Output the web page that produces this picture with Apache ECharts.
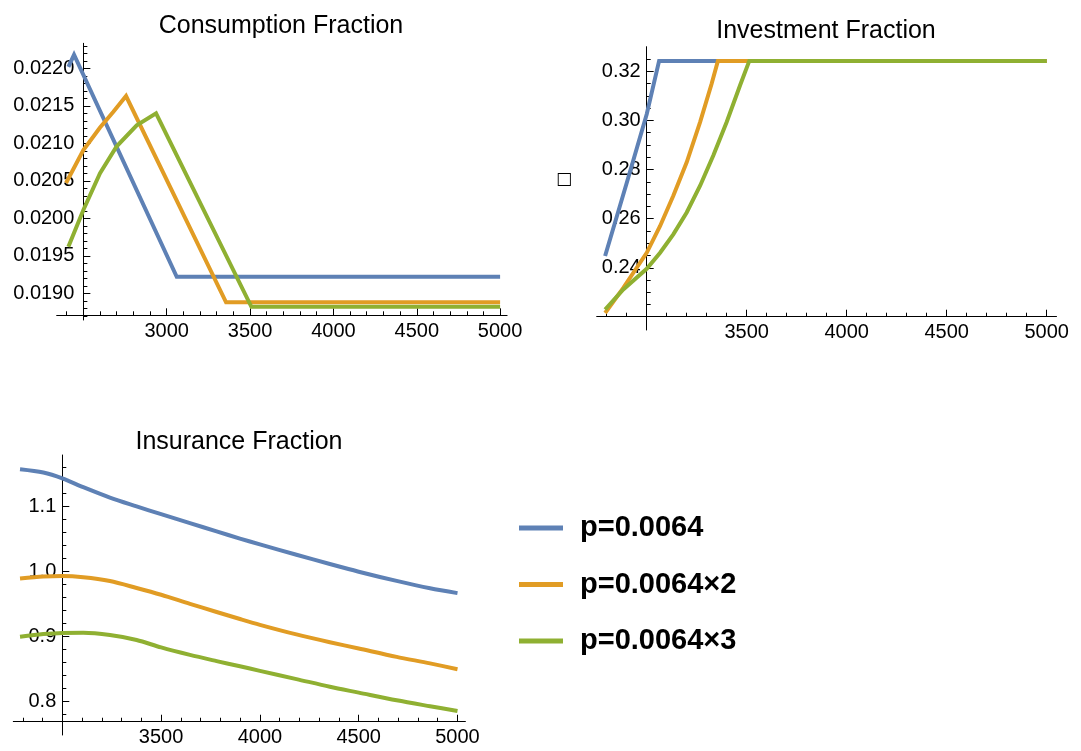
<!DOCTYPE html>
<html>
<head>
<meta charset="utf-8">
<script src="https://cdn.jsdelivr.net/npm/echarts@6/dist/echarts.min.js"></script>
<style>
html,body{margin:0;padding:0;background:#fff;}
#chart{width:1081px;height:751px;}
</style>
</head>
<body>
<div id="chart"></div>
<script>
// ---- data ----
const seriesNames = ['p=0.0064', 'p=0.0064×2', 'p=0.0064×3'];
const colors = ['#5E81B5', '#E19C24', '#8FB032'];

// Consumption Fraction ([x, y] breakpoints)
const consBlue   = [[2410,0.02202],[2444,0.02218],[3060,0.01922],[5000,0.01922]];
const consOrange = [[2396,0.02047],[2500,0.02091],[2600,0.02121],[2680,0.02142],[2756,0.02163],[3356,0.01888],[5000,0.01888]];
const consGreen  = [[2410,0.01962],[2500,0.02011],[2600,0.02060],[2700,0.02096],[2820,0.02124],[2936,0.02140],[3508,0.01882],[5000,0.01882]];

// Investment Fraction
const invBlue   = [[2792,0.2448],[2900,0.2745],[3000,0.3025],[3062,0.3242],[5000,0.3242]];
const invOrange = [[2792,0.2216],[2883,0.2318],[2950,0.2400],[3000,0.2461],[3067,0.2570],[3133,0.2693],[3200,0.2829],[3267,0.2993],[3325,0.3150],[3356,0.3242],[5000,0.3242]];
const invGreen  = [[2792,0.2230],[2883,0.2312],[3000,0.2396],[3067,0.2461],[3133,0.2536],[3200,0.2625],[3267,0.2734],[3333,0.2857],[3400,0.2993],[3467,0.3143],[3513,0.3242],[5000,0.3242]];

// Insurance Fraction
const insX      = [2786, 2904, 3000, 3106, 3241, 3376, 3500, 3646, 3781, 3899, 4000, 4185, 4354, 4500, 4692, 4861, 5000];
const insBlue   = [1.1575, 1.1525, 1.1436, 1.1300, 1.1140, 1.1005, 1.0885, 1.0748, 1.0620, 1.0510, 1.0420, 1.0260, 1.0118, 1.0000, 0.9858, 0.9745, 0.9670];
const insOrange = [0.9897, 0.9925, 0.9933, 0.9915, 0.9856, 0.9750, 0.9645, 0.9505, 0.9380, 0.9272, 0.9183, 0.9035, 0.8915, 0.8818, 0.8690, 0.8590, 0.8500];
const insGreen  = [0.9000, 0.9040, 0.9058, 0.9060, 0.9025, 0.8950, 0.8835, 0.8720, 0.8625, 0.8545, 0.8475, 0.8348, 0.8230, 0.8140, 0.8022, 0.7930, 0.7857];

// tick labels
const consXTicks = [3000, 3500, 4000, 4500, 5000];
const consYTicks = [0.0190, 0.0195, 0.0200, 0.0205, 0.0210, 0.0215, 0.0220];
const invXTicks  = [3500, 4000, 4500, 5000];
const invYTicks  = [0.24, 0.26, 0.28, 0.30, 0.32];
const insXTicks  = [3500, 4000, 4500, 5000];
const insYTicks  = [0.8, 0.9, 1.0, 1.1];

const titles = ['Consumption Fraction', 'Investment Fraction', 'Insurance Fraction'];

// ---- helpers ----
function range(a, b, step) { const out = []; for (let v = a; v <= b + step * 1e-6; v += step) out.push(+v.toFixed(6)); return out; }
const FONT = 'Liberation Sans, Arial, sans-serif';
const AX = '#000';
const LABEL_SIZE = 20;

const panels = [
  { grid: {left:56.7, top:43.3, width:450.4, height:276.7},
    xMin:2340, xMax:5042, yMin:0.018644, yMax:0.022333,
    xCross:2500, yCross:0.0187067, yMargin:9,
    xMaj: consXTicks, xMin2: range(2400, 5000, 100),
    yMaj: consYTicks, yMin2: range(0.0187, 0.0223, 0.0001), yDec:4,
    data:[consBlue, consOrange, consGreen], smooth:false },
  { grid: {left:596.7, top:46.7, width:459.8, height:283.3},
    xMin:2750, xMax:5049, yMin:0.21467, yMax:0.32997,
    xCross:3000, yCross:0.22008, yMargin:6,
    xMaj: invXTicks, xMin2: range(2800, 5000, 100),
    yMaj: invYTicks, yMin2: range(0.225, 0.325, 0.005), yDec:2,
    data:[invBlue, invOrange, invGreen], smooth:false },
  { grid: {left:13.3, top:455, width:452.1, height:280},
    xMin:2752, xMax:5040, yMin:0.7488, yMax:1.1795,
    xCross:3000, yCross:0.7692, yMargin:6,
    xMaj: insXTicks, xMin2: range(2800, 5000, 100),
    yMaj: insYTicks, yMin2: range(0.78, 1.16, 0.02), yDec:1,
    data:[insX.map((x,i)=>[x,insBlue[i]]), insX.map((x,i)=>[x,insOrange[i]]), insX.map((x,i)=>[x,insGreen[i]])], smooth:0.3 }
];

const grid = [], xAxis = [], yAxis = [], series = [];
panels.forEach((p, gi) => {
  grid.push(p.grid);
  const g = p.grid;
  const xScale = g.width / (p.xMax - p.xMin);
  const yScale = g.height / (p.yMax - p.yMin);
  const yOff = -((p.xCross - p.xMin) * xScale);
  const xOff = -((p.yCross - p.yMin) * yScale);
  xAxis.push({ type:'value', gridIndex:gi, min:p.xMin, max:p.xMax, position:'bottom', offset:xOff,
    axisLine:{show:true, onZero:false, lineStyle:{color:AX, width:1}},
    axisTick:{show:true, inside:true, length:7, customValues:p.xMaj, lineStyle:{color:AX}},
    axisLabel:{show:true, customValues:p.xMaj, color:'#000', fontSize:LABEL_SIZE, fontFamily:FONT, margin:6,
      formatter:(v)=>String(Math.round(v))},
    splitLine:{show:false} });
  xAxis.push({ type:'value', gridIndex:gi, min:p.xMin, max:p.xMax, position:'bottom', offset:xOff,
    axisLine:{show:false, onZero:false},
    axisTick:{show:true, inside:true, length:4, customValues:p.xMin2, lineStyle:{color:AX}},
    axisLabel:{show:false}, splitLine:{show:false} });
  yAxis.push({ type:'value', gridIndex:gi, min:p.yMin, max:p.yMax, position:'left', offset:yOff,
    axisLine:{show:true, onZero:false, lineStyle:{color:AX, width:1}},
    axisTick:{show:true, inside:true, length:7, customValues:p.yMaj, lineStyle:{color:AX}},
    axisLabel:{show:true, customValues:p.yMaj, color:'#000', fontSize:LABEL_SIZE, fontFamily:FONT, margin:p.yMargin,
      formatter:(v)=>Number(v).toFixed(p.yDec)},
    splitLine:{show:false} });
  yAxis.push({ type:'value', gridIndex:gi, min:p.yMin, max:p.yMax, position:'left', offset:yOff,
    axisLine:{show:false, onZero:false},
    axisTick:{show:true, inside:true, length:4, customValues:p.yMin2, lineStyle:{color:AX}},
    axisLabel:{show:false}, splitLine:{show:false} });
  p.data.forEach((d, si) => {
    series.push({ type:'line', name:seriesNames[si], xAxisIndex:gi*2, yAxisIndex:gi*2,
      data:d, showSymbol:false, smooth:p.smooth, color:colors[si],
      lineStyle:{width:4, color:colors[si], cap:'butt', join:'miter'}, z:3+si, silent:true });
  });
});

const chart = echarts.init(document.getElementById('chart'), null, {renderer:'canvas'});
const titleStyle = {fontSize:25, fontWeight:'normal', color:'#000', fontFamily:FONT};
chart.setOption({
  animation:false,
  backgroundColor:'#fff',
  textStyle:{fontFamily:FONT},
  title:[
    {text:titles[0], left:276, top:9, textAlign:'center', textStyle:titleStyle},
    {text:titles[1], left:821, top:14, textAlign:'center', textStyle:titleStyle},
    {text:titles[2], left:234, top:425, textAlign:'center', textStyle:titleStyle}
  ],
  legend:{ data:seriesNames, orient:'vertical', left:514, top:507, icon:'rect', itemWidth:44, itemHeight:5,
    itemGap:24.5, selectedMode:false,
    textStyle:{fontSize:29, fontWeight:'bold', color:'#000', fontFamily:FONT, lineHeight:32, padding:[0,0,0,12]} },
  grid, xAxis, yAxis, series,
  graphic:[{type:'text', left:556, top:171, style:{text:'□', fontSize:17, fontFamily:'DejaVu Sans', fill:'#000'}}]
});
</script>
</body>
</html>
